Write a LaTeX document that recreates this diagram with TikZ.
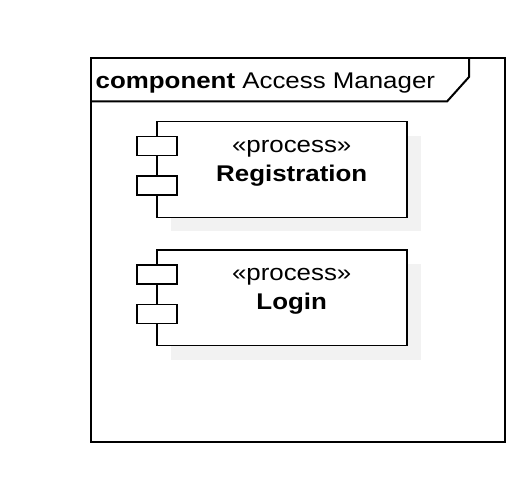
\documentclass[tikz,border=0pt]{standalone}
\usepackage{fontspec}
\setmainfont{Liberation Sans}[FakeStretch=1.14]
\usepackage{tikz}
\usetikzlibrary{shadows}
\definecolor{shadowgray}{HTML}{F2F2F2}
\tikzstyle{frame} = [line width=2pt]
\tikzstyle{compbox} = [draw, line width=1.6pt, fill=white, minimum width=250pt, minimum height=95.6pt, inner sep=0pt, drop shadow={shadow xshift=14pt, shadow yshift=-14pt, fill=shadowgray, opacity=1}]
\tikzstyle{port} = [draw, line width=1.6pt, fill=white, minimum width=40pt, minimum height=19pt, inner sep=0pt]
\tikzstyle{comptext} = [font=\fontsize{22.7}{27}\selectfont, inner sep=0pt, anchor=base]

\begin{document}
\begin{tikzpicture}[x=1pt,y=-1pt]
	\useasboundingbox (0,0) rectangle (514,484);
	\draw[frame] (91,58) rectangle (505,441.5);
	\draw[frame] (91,101.5) -- (447,101.5) -- (469,77) -- (469,58);
	\node[comptext, anchor=base west] (title) at (95.5,88.3) {\textbf{component} Access Manager};

	\node[compbox] (reg) at (281.7,169.5) {};
	\node[port] (regtop) at (156.7,146.2) {};
	\node[port] (regbot) at (156.7,185.7) {};
	\node[comptext] (regstereo) at (291.7,152.3) {«process»};
	\node[comptext] (regname) at (291.7,181) {\textbf{Registration}};

	\node[compbox] (login) at (281.7,297.8) {};
	\node[port] (logintop) at (156.7,274.5) {};
	\node[port] (loginbot) at (156.7,314) {};
	\node[comptext] (loginstereo) at (291.7,280.6) {«process»};
	\node[comptext] (loginname) at (291.7,309.3) {\textbf{Login}};
\end{tikzpicture}
\end{document}
